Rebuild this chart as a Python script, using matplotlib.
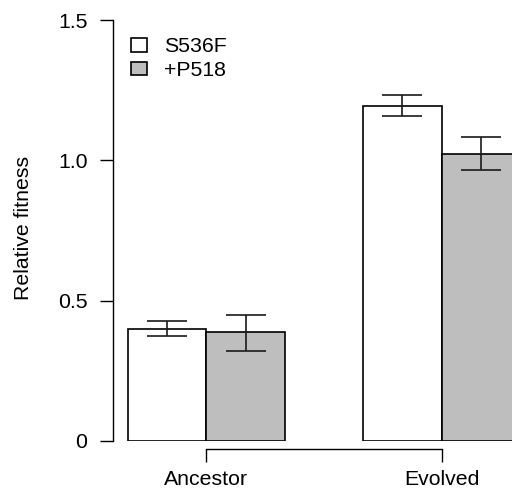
import matplotlib
matplotlib.use("Agg")
import matplotlib.pyplot as plt
from matplotlib.patches import Patch
import numpy as np

plt.rcParams['font.family'] = ['Liberation Sans', 'DejaVu Sans']

groups = ['Ancestor', 'Evolved']
series = ['S536F', '+P518']
colors = ['white', '#bebebe']
values = [[0.400, 1.193],
          [0.387, 1.023]]
err_lo = [[0.374, 1.157],
          [0.322, 0.964]]
err_hi = [[0.428, 1.232],
          [0.450, 1.083]]
yticks = [0, 0.5, 1.0, 1.5]
ytick_labels = ['0', '0.5', '1.0', '1.5']

W, H = 512, 493
FS = 15.3
fig = plt.figure(figsize=(W / 100, H / 100), dpi=100)
ax = fig.add_axes([113 / W, (H - 441) / H, (520 - 113) / W, (441 - 20) / H])

group_x = np.arange(len(groups)) * 3
for i, name in enumerate(series):
    xs = group_x + i + 0.5
    v = np.array(values[i])
    lo = v - np.array(err_lo[i])
    hi = np.array(err_hi[i]) - v
    ax.bar(xs, v, width=1.0, color=colors[i], edgecolor='black', linewidth=1.2)
    ax.errorbar(xs, v, yerr=[lo, hi], fmt='none', ecolor='#1a1a1a',
                elinewidth=1.2, capsize=14.4, capthick=1.2)

ax.set_xlim(-0.19, 5.0)
ax.set_ylim(0, 1.5)
ax.set_yticks(yticks)
ax.set_yticklabels(ytick_labels)
ax.set_xticks(group_x + 1)
ax.set_xticklabels(groups)

for s in ['top', 'right']:
    ax.spines[s].set_visible(False)
ax.spines['left'].set_bounds(0, 1.5)
ax.spines['bottom'].set_bounds(1, 4)
ax.spines['bottom'].set_position(('outward', 5.8))
for s in ['left', 'bottom']:
    ax.spines[s].set_linewidth(1.0)
ax.tick_params(axis='both', direction='out', length=9.4, width=1.0, labelsize=FS)
ax.tick_params(axis='y', pad=9)
ax.tick_params(axis='x', pad=5.5)
ax.set_ylabel('Relative fitness', fontsize=FS)
ax.yaxis.set_label_coords(33 / W, (H - 228) / H, transform=fig.transFigure)

handles = [Patch(facecolor=c, edgecolor='black', linewidth=1.2) for c in colors]
fig.legend(handles, series, loc='upper left', bbox_to_anchor=(131 / W, (H - 37.5) / H),
           frameon=False, fontsize=FS, handlelength=0.76, handleheight=0.57,
           handletextpad=0.8, labelspacing=0.22, borderpad=0, borderaxespad=0)

fig.savefig('out.png', dpi=100)
